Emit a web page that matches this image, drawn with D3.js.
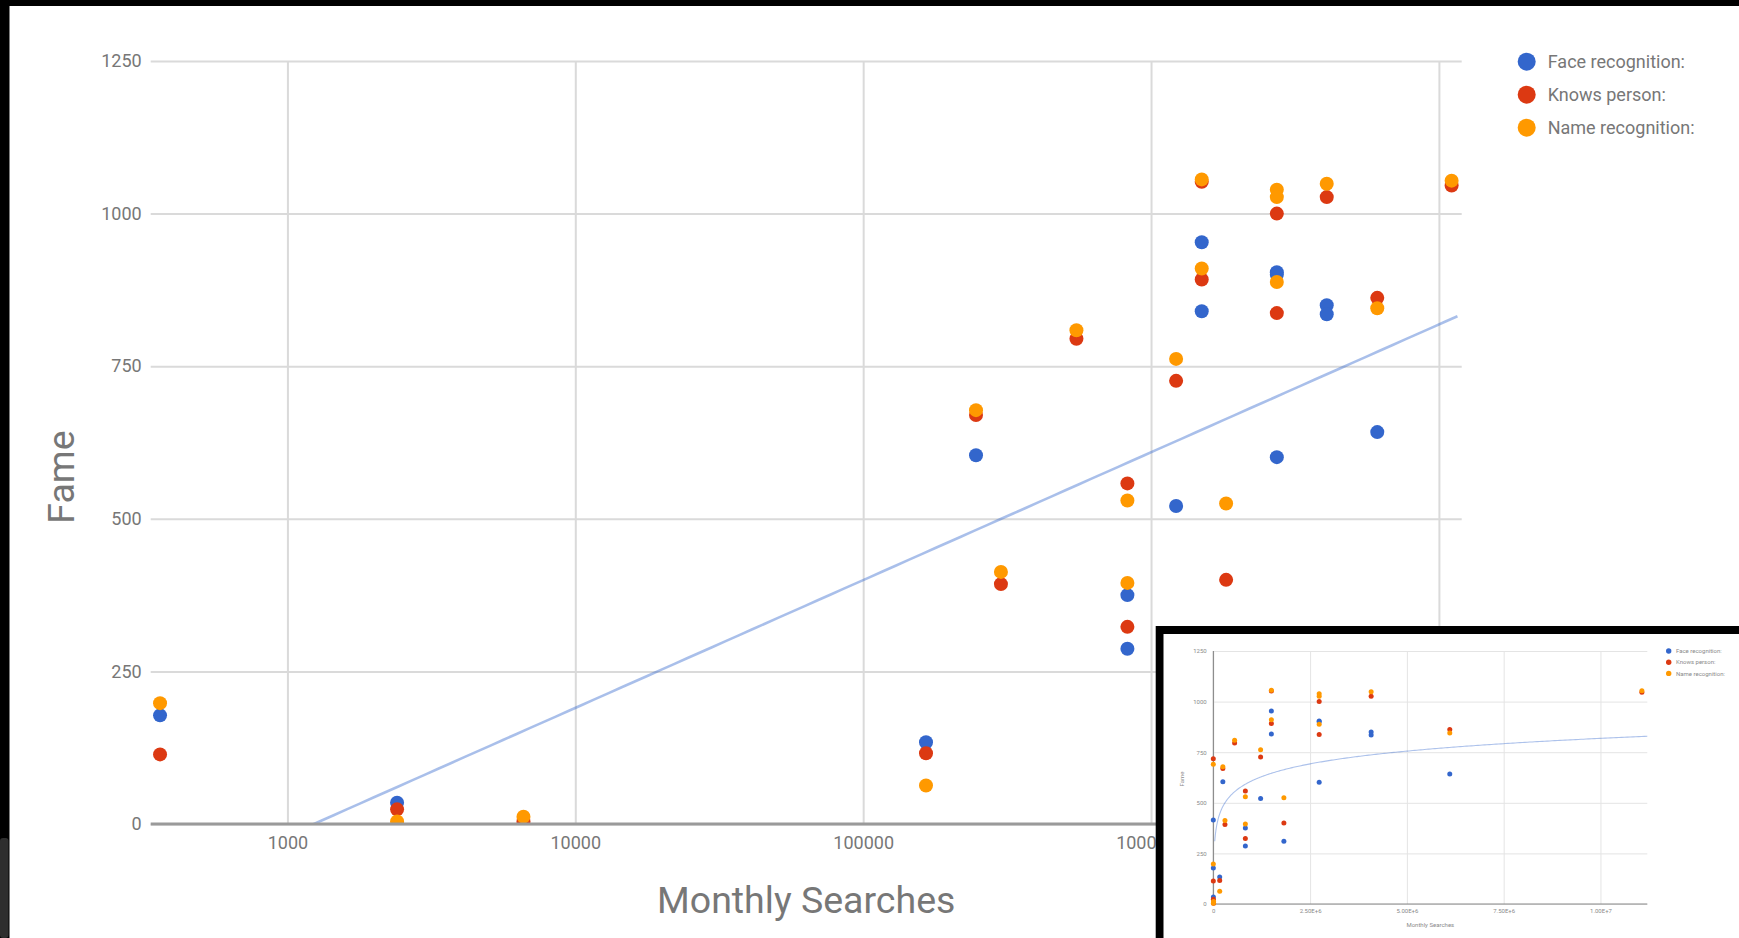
<!DOCTYPE html>
<html><head><meta charset="utf-8">
<script src="https://cdn.jsdelivr.net/npm/d3@7"></script>
<style>html,body{margin:0;padding:0;background:#fff;overflow:hidden}svg{display:block}</style>
</head><body>
<svg id="c" width="1739" height="938"></svg>
<script>
// ---- data (one entry per person) ----
const monthlySearches = [0, 361, 2404, 6607, 165300, 246600, 301000, 550600, 827800, 827800, 1222000, 1500000, 1500000, 1823000, 2735000, 2735000, 2735000, 4077000, 4077000, 6108000, 11070000];
const faceRecognition = [415, 178, 35, null, 134, 604, null, null, 375, 287, 521, 953, 840, 310, 904, 900, 601, 850, 835, 642, null];
const knowsPerson     = [718, 114, 24, 4, 116, 670, 393, 795, 558, 323, 726, 1052, 892, 400, 1000, 837, null, 1027, null, 862, 1046];
const nameRecognition = [690, 198, 4, 12, 63, 678, 413, 809, 530, 395, 762, 1056, 910, 525, 1039, 1027, 888, 1049, null, 845, 1054];
const seriesNames = ["Face recognition:", "Knows person:", "Name recognition:"];
const seriesColors = ["#3366cc", "#dc3912", "#ff9900"];
const yTicks = [0, 250, 500, 750, 1000, 1250];
const xTicksMain = [1000, 10000, 100000, 1000000, 10000000];
const xTicksInset = [0, 2500000, 5000000, 7500000, 10000000];
const xDomainMain = [335, 12000000];
const xDomainInset = [0, 11210000];
const yDomain = [0, 1250];
// logarithmic trendline of "Face recognition": y = a*ln(x) + b
const trendA = 90.94, trendB = -647.4;

const series = [faceRecognition, knowsPerson, nameRecognition];
const W = 1739, H = 938;
const FONT = "Roboto, 'Noto Sans', Arial, sans-serif";
const svg = d3.select("#c");
svg.append("rect").attr("width", W).attr("height", H).attr("fill", "#fff");

// ================= MAIN CHART =================
const M = {left: 150.7, right: 1461.7, top: 61, bottom: 824};
const x = d3.scaleLog().domain(xDomainMain).range([M.left, M.right]);
const y = d3.scaleLinear().domain(yDomain).range([M.bottom, M.top]);
const main = svg.append("g");

main.append("clipPath").attr("id", "clipMain").append("rect")
  .attr("x", M.left).attr("y", M.top).attr("width", M.right - M.left).attr("height", M.bottom - M.top);

// y axis + horizontal gridlines
const gy = main.append("g").attr("transform", `translate(${M.left},0)`)
  .call(d3.axisLeft(y).tickValues(yTicks).tickSize(-(M.right - M.left)).tickPadding(9).tickFormat(d3.format("d")));
gy.select(".domain").remove();
gy.selectAll(".tick line").attr("stroke", "#dadada").attr("stroke-width", 2);
gy.selectAll(".tick text").attr("fill", "#777").style("font", `18px ${FONT}`);

// x axis + vertical gridlines
const gx = main.append("g").attr("transform", `translate(0,${M.bottom})`)
  .call(d3.axisBottom(x).tickValues(xTicksMain).tickSize(-(M.bottom - M.top)).tickPadding(12.2).tickFormat(d3.format("d")));
gx.select(".domain").remove();
gx.selectAll(".tick line").attr("stroke", "#dadada").attr("stroke-width", 2);
gx.selectAll(".tick text").attr("fill", "#777").style("font", `18px ${FONT}`);

// trendline
const trendFn = v => trendA * Math.log(v) + trendB;
const logMin = Math.log10(xDomainMain[0]), logMax = Math.log10(1.16e7);
const trendPtsMain = d3.range(0, 101).map(i => Math.pow(10, logMin + (logMax - logMin) * i / 100));
main.append("path").datum(trendPtsMain)
  .attr("clip-path", "url(#clipMain)")
  .attr("fill", "none").attr("stroke", "#3366cc").attr("stroke-opacity", 0.42).attr("stroke-width", 2.6)
  .attr("d", d3.line().x(d => x(d)).y(d => y(trendFn(d))));

// points
const pts = main.append("g").attr("clip-path", "url(#clipMain)");
series.forEach((vals, si) => {
  const data = monthlySearches.map((m, i) => ({m, v: vals[i]})).filter(d => d.v != null && d.m > 0);
  pts.selectAll(null).data(data).enter().append("circle")
    .attr("cx", d => x(d.m)).attr("cy", d => y(d.v)).attr("r", 7)
    .attr("fill", seriesColors[si]);
});

// baseline
main.append("line").attr("x1", M.left).attr("x2", M.right).attr("y1", y(0)).attr("y2", y(0))
  .attr("stroke", "#9a9a9a").attr("stroke-width", 3);

// axis titles
main.append("text").attr("x", (M.left + M.right) / 2).attr("y", 913).attr("text-anchor", "middle")
  .attr("fill", "#777").style("font", `37.5px ${FONT}`).text("Monthly Searches");
main.append("text").attr("transform", "translate(74,477) rotate(-90)").attr("text-anchor", "middle")
  .attr("fill", "#777").style("font", `37.5px ${FONT}`).text("Fame");

// legend
const lg = main.append("g");
seriesNames.forEach((n, i) => {
  const cy = 61.7 + i * 33;
  lg.append("circle").attr("cx", 1526.7).attr("cy", cy).attr("r", 9).attr("fill", seriesColors[i]);
  lg.append("text").attr("x", 1547.7).attr("y", cy).attr("dy", "0.35em").attr("fill", "#777")
    .style("font", `18px ${FONT}`).text(n);
});

// frame of the screenshot
svg.append("rect").attr("x", 0).attr("y", 0).attr("width", W).attr("height", 6).attr("fill", "#000");
svg.append("rect").attr("x", 0).attr("y", 0).attr("width", 9.5).attr("height", H).attr("fill", "#000");
svg.append("rect").attr("x", 0).attr("y", 838).attr("width", 8.5).attr("height", 100).attr("rx", 3).attr("fill", "#2e2e2e");

// ================= INSET CHART =================
const inset = svg.append("g");
inset.append("rect").attr("x", 1155.7).attr("y", 626).attr("width", W - 1155.7).attr("height", H - 626).attr("fill", "#000");
inset.append("rect").attr("x", 1163.5).attr("y", 634).attr("width", W - 1163.5).attr("height", H - 634).attr("fill", "#fff");

const I = {left: 1213.3, right: 1647.3, top: 651, bottom: 904};
const xi = d3.scaleLinear().domain(xDomainInset).range([I.left, I.right]);
const yi = d3.scaleLinear().domain(yDomain).range([I.bottom, I.top]);
const sciFmt = v => {
  if (v === 0) return "0";
  const e = Math.floor(Math.log10(v));
  return (v / Math.pow(10, e)).toFixed(2) + "E+" + e;
};

const giy = inset.append("g").attr("transform", `translate(${I.left},0)`)
  .call(d3.axisLeft(yi).tickValues(yTicks).tickSize(-(I.right - I.left)).tickPadding(6.6).tickFormat(d3.format("d")));
giy.select(".domain").remove();
giy.selectAll(".tick line").attr("stroke", "#e4e4e4").attr("stroke-width", 1);
giy.selectAll(".tick text").attr("fill", "#8a8a8a").style("font", `6px ${FONT}`);

const gix = inset.append("g").attr("transform", `translate(0,${I.bottom})`)
  .call(d3.axisBottom(xi).tickValues(xTicksInset).tickSize(-(I.bottom - I.top)).tickPadding(4.6).tickFormat(sciFmt));
gix.select(".domain").remove();
gix.selectAll(".tick line").attr("stroke", "#e4e4e4").attr("stroke-width", 1);
gix.selectAll(".tick text").attr("fill", "#8a8a8a").style("font", `6px ${FONT}`);

// zero lines
inset.append("line").attr("x1", xi(0)).attr("x2", xi(0)).attr("y1", I.top).attr("y2", I.bottom)
  .attr("stroke", "#777").attr("stroke-width", 1);
inset.append("line").attr("x1", I.left).attr("x2", I.right).attr("y1", yi(0)).attr("y2", yi(0))
  .attr("stroke", "#888").attr("stroke-width", 1.2);

// inset trendline
const tMin = xDomainInset[1] / 300, tMax = xDomainInset[1];
const trendPtsInset = d3.range(0, 301).map(i => tMin + (tMax - tMin) * Math.pow(i / 300, 2));
inset.append("path").datum(trendPtsInset)
  .attr("fill", "none").attr("stroke", "#3366cc").attr("stroke-opacity", 0.4).attr("stroke-width", 1.1)
  .attr("d", d3.line().x(d => xi(d)).y(d => yi(trendFn(d))));

series.forEach((vals, si) => {
  const data = monthlySearches.map((m, i) => ({m, v: vals[i]})).filter(d => d.v != null);
  inset.selectAll(null).data(data).enter().append("circle")
    .attr("cx", d => xi(d.m)).attr("cy", d => yi(d.v)).attr("r", 2.5)
    .attr("fill", seriesColors[si]);
});

inset.append("text").attr("x", (I.left + I.right) / 2).attr("y", 927).attr("text-anchor", "middle")
  .attr("fill", "#8a8a8a").style("font", `6px ${FONT}`).text("Monthly Searches");
inset.append("text").attr("transform", "translate(1183.7,779) rotate(-90)").attr("text-anchor", "middle")
  .attr("fill", "#8a8a8a").style("font", `6px ${FONT}`).text("Fame");

seriesNames.forEach((n, i) => {
  const cy = 651 + i * 11.2;
  inset.append("circle").attr("cx", 1668.7).attr("cy", cy).attr("r", 2.7).attr("fill", seriesColors[i]);
  inset.append("text").attr("x", 1676).attr("y", cy).attr("dy", "0.35em").attr("fill", "#8a8a8a")
    .style("font", `6px ${FONT}`).text(n);
});
</script>
</body></html>
